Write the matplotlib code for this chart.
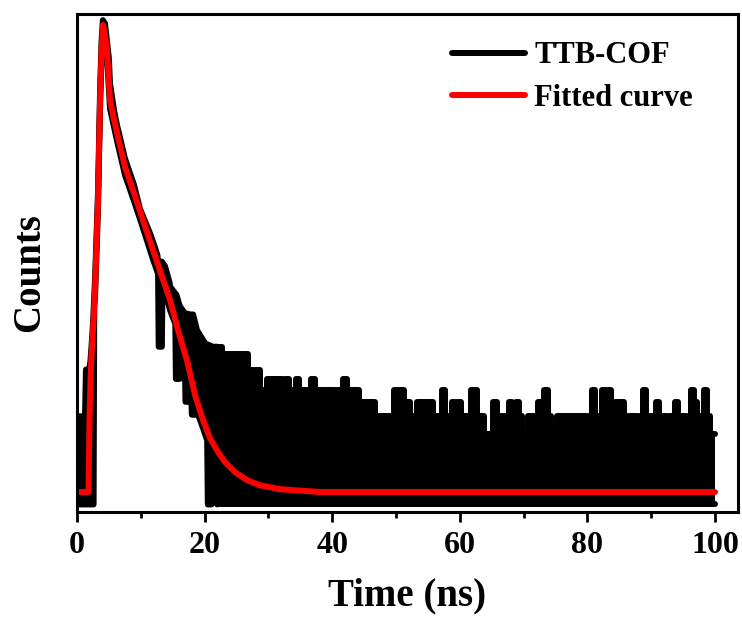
import numpy as np
import matplotlib
matplotlib.use('Agg')
import matplotlib.pyplot as plt
from matplotlib.ticker import NullLocator

plt.rcParams['font.family'] = ['Liberation Serif', 'DejaVu Serif']
plt.rcParams['font.weight'] = 'bold'

# rise and decay (0-22 ns): top and bottom edge of the measured band (counts)
head_up_t = [0, 1.25, 1.4, 1.9, 2.1, 2.3, 2.5, 2.82, 3.29, 3.61, 3.84, 4.05, 4.39,
             4.70, 5.0, 5.17, 5.80, 6.27, 7.52, 8.93, 9.87, 11.44, 12.2, 12.6, 12.7,
             13.3, 13.8, 14.5, 14.6, 15.6, 16.1, 16.9, 17.8, 18.2, 18.8, 20.1, 21.3, 22.0]
head_up_n = [5, 5, 9, 9, 10, 12.5, 16, 28, 85, 300, 560, 730, 700,
             560, 450, 330, 235, 195, 128, 92, 68, 50, 42, 38, 35,
             35, 33, 27, 25.5, 23, 20, 18.3, 18, 18, 14.8, 12.5, 12, 12]
head_lo_t = [0, 2.6, 2.7, 2.82, 3.29, 3.61, 3.84, 4.08, 4.39, 4.70, 5.17, 5.80, 6.27,
             7.52, 8.93, 10.0, 11.91, 12.7, 12.8, 13.3, 13.4, 14.58, 15.4, 15.5, 16.1,
             16.2, 16.9, 17.0, 17.7, 17.8, 18.0, 18.8, 18.9, 19.75, 20.4, 20.5, 21.1,
             21.2, 21.9, 22.0]
head_lo_n = [1.65, 1.65, 20, 22, 68, 240, 450, 620, 600, 460, 240, 190, 160,
             104, 75, 58, 36, 30, 12, 12, 27, 19, 16, 8, 8,
             12.5, 10, 6, 6, 8.5, 5.1, 5.1, 5.2, 4.3, 3.7, 1.65, 1.65,
             3, 3, 1.65]

# background tail (22-100 ns), top of the noise every 0.5 ns (counts)
tail_t = np.linspace(22, 100, 157)
tail_up = [12, 12, 11, 11, 11, 11,
           11, 11, 11, 11, 9, 9, 9, 9, 7, 7,
           8, 8, 8, 8, 8, 7, 8, 7, 7, 8,
           7, 7, 7, 7, 8, 7, 7, 7, 7, 7,
           7, 6, 7, 7, 8, 7, 7, 7, 7, 6,
           6, 6, 6, 6, 5, 5, 5, 5, 5, 5,
           7, 7, 7, 6, 6, 5, 5, 6, 6, 6,
           6, 6, 5, 5, 5, 7, 5, 5, 6, 5,
           6, 5, 5, 5, 7, 7, 5, 5, 4, 4,
           4, 6, 5, 4, 5, 5, 6, 5, 6, 5,
           4, 4, 5, 5, 5, 6, 5, 7, 5, 4,
           4, 5, 5, 5, 5, 5, 5, 5, 5, 5,
           4, 5, 7, 5, 5, 7, 5, 7, 5, 6,
           6, 6, 5, 4, 5, 5, 4, 5, 7, 5,
           4, 5, 6, 5, 5, 4, 5, 5, 6, 5,
           5, 4, 5, 7, 6, 5, 5, 7, 5, 4,
           4]
tail_floor = 1.65

# fitted curve
fit_t = [0, 1.80, 1.96, 2.12, 2.27, 2.51, 2.82, 3.29, 3.61, 3.84, 4.08, 4.39, 4.70,
         5.17, 5.80, 6.27, 7.52, 8.93, 11.91, 14.58, 15.83, 17.24, 18.50, 19.75,
         20.85, 22.10, 23.20, 24.76, 26.65, 28.68, 31.80, 38.09, 100]
fit_n = [1.93, 1.93, 4.77, 7.9, 10.8, 14.8, 24.5, 76, 267, 502, 687, 606, 502,
         267, 209, 177, 115, 83, 40.5, 21.6, 14.8, 10.1, 6.53, 4.77,
         3.80, 3.19, 2.81, 2.48, 2.24, 2.10, 2.0, 1.93, 1.93]

fig = plt.figure(figsize=(7.42, 6.21), dpi=100)
ax = fig.add_axes([0.1038, 0.1755, 0.8908, 0.802])

lw = 4.3
# decay part as a polygon between the two edges
ax.fill(head_up_t + head_lo_t[::-1], head_up_n + head_lo_n[::-1],
        color='black', lw=0)
ax.plot(head_up_t, head_up_n, color='black', lw=lw, solid_joinstyle='round',
        solid_capstyle='round', label='TTB-COF')
ax.plot(head_lo_t, head_lo_n, color='black', lw=lw, solid_joinstyle='round',
        solid_capstyle='round')
# tail
ax.fill_between(tail_t, tail_floor, tail_up, step='mid', color='black', lw=0)
ax.plot(tail_t, tail_up, color='black', lw=lw, drawstyle='steps-mid',
        solid_joinstyle='round', solid_capstyle='round')
ax.plot(tail_t, np.full(len(tail_t), tail_floor), color='black', lw=lw,
        solid_capstyle='round')

ax.plot(fit_t, fit_n, color='#ff0000', lw=lw, solid_joinstyle='round',
        solid_capstyle='round', label='Fitted curve')

ax.set_yscale('log')
ax.set_ylim(1.5, 789)
ax.set_xlim(0, 103.6)
ax.yaxis.set_major_locator(NullLocator())
ax.yaxis.set_minor_locator(NullLocator())
ax.set_xticks([0, 20, 40, 60, 80, 100])
ax.set_xticks([10, 30, 50, 70, 90], minor=True)
ax.tick_params(axis='x', which='major', direction='out', length=7, width=2,
               labelsize=23, pad=7)
ax.tick_params(axis='x', which='minor', direction='out', length=4, width=2)
ax.tick_params(axis='y', which='both', left=False, labelleft=False)
for s in ax.spines.values():
    s.set_linewidth(2.2)

ax.set_xlabel('Time (ns)', fontsize=28, fontweight='bold', labelpad=12)
ax.set_ylabel('Counts', fontsize=28, fontweight='bold')
ax.yaxis.set_label_coords(-0.044, 0.48)

leg = ax.legend(loc='upper left', bbox_to_anchor=(0.567, 0.945), frameon=False,
                fontsize=22, handlelength=2.4, handletextpad=0.3,
                labelspacing=0.45, borderpad=0, borderaxespad=0)
for line in leg.get_lines():
    line.set_linewidth(lw)

fig.savefig('out.png', dpi=100)
